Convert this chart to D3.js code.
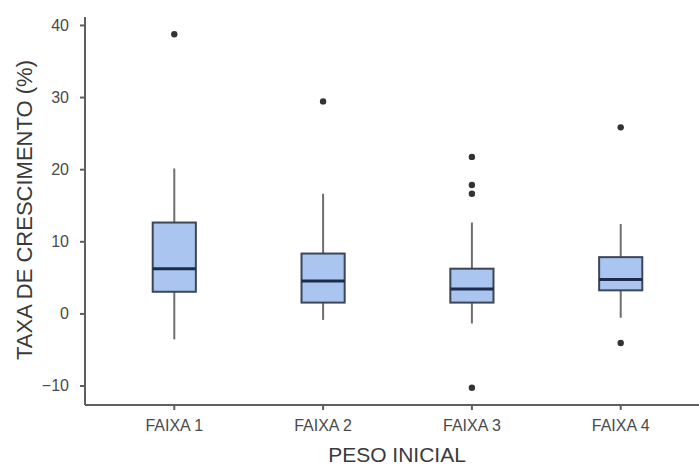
<!DOCTYPE html>
<html>
<head>
<meta charset="utf-8">
<script src="https://cdn.jsdelivr.net/npm/d3@7"></script>
<style>
  body { margin: 0; background: #fff; }
  svg { display: block; font-family: "Liberation Sans", Arial, sans-serif; }
</style>
</head>
<body>
<div id="boxplot"></div>
<script>
// Data
const categories = ["FAIXA 1", "FAIXA 2", "FAIXA 3", "FAIXA 4"];
const whiskerLow = [-3.6, -0.9, -1.4, -0.6];
const q1 = [3.0, 1.5, 1.5, 3.2];
const median = [6.2, 4.5, 3.4, 4.7];
const q3 = [12.6, 8.3, 6.2, 7.8];
const whiskerHigh = [20.1, 16.6, 12.6, 12.4];
const outliers = [[38.7], [29.4], [21.7, 17.8, 16.6, -10.3], [25.8, -4.1]];
const yTicks = [-10, 0, 10, 20, 30, 40];

const data = categories.map((c, i) => ({
    cat: c, lo: whiskerLow[i], q1: q1[i], med: median[i],
    q3: q3[i], hi: whiskerHigh[i], out: outliers[i]
}));

// Dimensions
const W = 699, H = 469;
const margin = {top: 17, right: 0, bottom: 64, left: 85};
const height = H - margin.top - margin.bottom;
const width = 625; // plot runs past the right edge (cropped)

const svg = d3.select("#boxplot")
    .append("svg")
    .attr("width", W)
    .attr("height", H)
    .append("g")
    .attr("transform", `translate(${margin.left},${margin.top})`);

// Scales
const xScale = d3.scaleBand()
    .domain(categories)
    .range([0, width])
    .paddingOuter(0.1)
    .paddingInner(0);

const yScale = d3.scaleLinear()
    .domain([-12.7, 41.1])
    .range([height, 0]);

const axisColor = "#5f5f5f";

// Axes
const xAxis = svg.append("g")
    .attr("transform", `translate(0,${height})`)
    .call(d3.axisBottom(xScale).tickSize(5).tickPadding(10));

const yAxis = svg.append("g")
    .call(d3.axisLeft(yScale).tickValues(yTicks).tickSize(5).tickPadding(11));

[xAxis, yAxis].forEach(ax => {
    ax.select(".domain").attr("stroke", axisColor).attr("stroke-width", 2);
    ax.selectAll(".tick line").attr("stroke", axisColor).attr("stroke-width", 2);
    ax.selectAll(".tick text")
        .attr("fill", "#4a4a4a")
        .style("font-size", "16px")
        .style("font-family", "'Liberation Sans', Arial, sans-serif");
});
// keep the left end of the x axis flush with the y axis
xAxis.select(".domain").attr("d", `M0,0H${width}`);
yAxis.select(".domain").attr("d", `M0,0V${height}`);

// Boxes
const boxW = xScale.bandwidth() * 0.29;
const g = svg.selectAll(".box")
    .data(data)
    .enter().append("g")
    .attr("class", "box")
    .attr("transform", d => `translate(${xScale(d.cat) + xScale.bandwidth() / 2},0)`);

// whiskers
g.append("line")
    .attr("y1", d => yScale(d.hi))
    .attr("y2", d => yScale(d.q3))
    .attr("stroke", "#6e6e6e").attr("stroke-width", 2);
g.append("line")
    .attr("y1", d => yScale(d.q1))
    .attr("y2", d => yScale(d.lo))
    .attr("stroke", "#6e6e6e").attr("stroke-width", 2);

// box
g.append("rect")
    .attr("x", -boxW / 2)
    .attr("width", boxW)
    .attr("y", d => yScale(d.q3))
    .attr("height", d => yScale(d.q1) - yScale(d.q3))
    .attr("fill", "#a9c5f0")
    .attr("stroke", "#3b4656")
    .attr("stroke-width", 2);

// median
g.append("line")
    .attr("x1", -boxW / 2)
    .attr("x2", boxW / 2)
    .attr("y1", d => yScale(d.med))
    .attr("y2", d => yScale(d.med))
    .attr("stroke", "#1c2c4a")
    .attr("stroke-width", 3);

// outliers
g.selectAll("circle")
    .data(d => d.out)
    .enter().append("circle")
    .attr("cx", 0)
    .attr("cy", v => yScale(v))
    .attr("r", 3.2)
    .attr("fill", "#333");

// Axis titles
svg.append("text")
    .attr("x", 312)
    .attr("y", height + 57)
    .attr("text-anchor", "middle")
    .attr("fill", "#3a3a3a")
    .style("font-size", "21px")
    .text("PESO INICIAL");

svg.append("text")
    .attr("transform", "rotate(-90)")
    .attr("x", -(210 - margin.top))
    .attr("y", -53)
    .attr("text-anchor", "middle")
    .attr("fill", "#3a3a3a")
    .style("font-size", "22px")
    .text("TAXA DE CRESCIMENTO (%)");
</script>
</body>
</html>
